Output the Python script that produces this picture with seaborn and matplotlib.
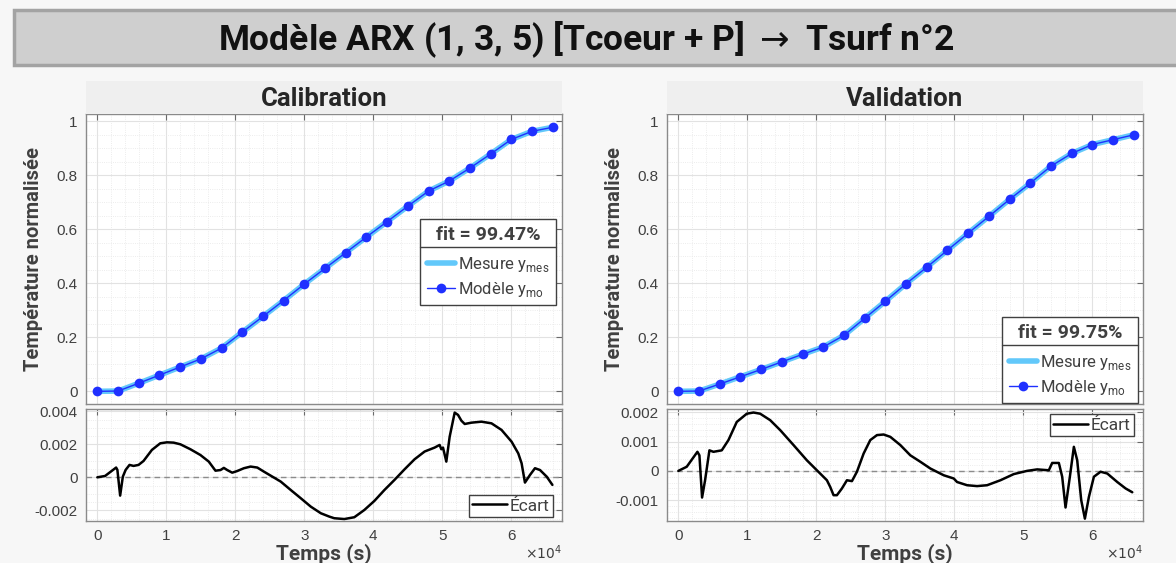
import numpy as np
import pandas as pd
import seaborn as sns
import matplotlib.pyplot as plt
from matplotlib.ticker import MultipleLocator, FuncFormatter
from matplotlib.lines import Line2D
from matplotlib.patches import Rectangle

# --- données ---
temps = [0, 3000, 6000, 9000, 12000, 15000, 18000, 21000, 24000, 27000, 30000, 33000,
         36000, 39000, 42000, 45000, 48000, 51000, 54000, 57000, 60000, 63000, 66000]

calib_mes = [0.000, 0.001, 0.030, 0.060, 0.090, 0.120, 0.160, 0.219, 0.277, 0.336, 0.397, 0.455,
             0.513, 0.571, 0.628, 0.685, 0.741, 0.778, 0.826, 0.878, 0.932, 0.962, 0.977]
calib_mod = [0.000, 0.001, 0.030, 0.060, 0.090, 0.120, 0.160, 0.219, 0.277, 0.336, 0.397, 0.455,
             0.513, 0.571, 0.628, 0.685, 0.741, 0.778, 0.826, 0.878, 0.932, 0.962, 0.977]

valid_mes = [0.000, 0.001, 0.027, 0.054, 0.081, 0.109, 0.137, 0.164, 0.207, 0.270, 0.333, 0.398,
             0.459, 0.522, 0.585, 0.647, 0.710, 0.770, 0.833, 0.880, 0.913, 0.931, 0.949]
valid_mod = [0.000, 0.001, 0.027, 0.054, 0.081, 0.109, 0.137, 0.164, 0.207, 0.270, 0.333, 0.398,
             0.459, 0.522, 0.585, 0.647, 0.710, 0.770, 0.833, 0.880, 0.913, 0.931, 0.949]

calib_ecart_t = [0, 1115, 2716, 2900, 3300, 3690, 4100, 4656, 5237, 5965, 6692, 7905, 9117, 10087,
                 11057, 12027, 13482, 14937, 16149, 17119, 17847, 18332, 18817, 19544, 20272,
                 21242, 22211, 23181, 24151, 25364, 26576, 28031, 29486, 30941, 32396, 33608,
                 34336, 35791, 37245, 38700, 40155, 41610, 43065, 44520, 45975, 47430, 48885,
                 49612, 49855, 50100, 50582, 51067, 51794, 52279, 52764, 53249, 54219, 55674,
                 57129, 58584, 60039, 61009, 61494, 61979, 62706, 63434, 64161, 65131, 65956]
calib_ecart = [0.0, 0.00008, 0.00059, 0.00045, -0.00111, 0.00004, 0.00045, 0.00075, 0.00069,
               0.00075, 0.00099, 0.00166, 0.00206, 0.00212, 0.0021, 0.0020, 0.0017, 0.00135,
               0.00095, 0.0004, 0.00044, 0.00057, 0.00044, 0.00028, 0.00038, 0.00055, 0.00065,
               0.00059, 0.00034, 0.00004, -0.00026, -0.00077, -0.00127, -0.00178, -0.00218,
               -0.00238, -0.00248, -0.00253, -0.00242, -0.00198, -0.00143, -0.00077, -0.00016,
               0.00048, 0.00109, 0.00156, 0.0018, 0.00196, 0.0017, 0.0018, 0.00095, 0.00246,
               0.00392, 0.00378, 0.00343, 0.00323, 0.00331, 0.00337, 0.00327, 0.00287, 0.00216,
               0.00145, 0.00085, -0.00032, 0.00014, 0.00055, 0.00044, 0.00004, -0.00046]

valid_ecart_t = [0, 1209, 2758, 3050, 3435, 3870, 4499, 5080, 5806, 6289, 7257, 8466, 9918, 10885,
                 11853, 13304, 14756, 16691, 18626, 20077, 21529, 22013, 22496, 22980, 23706,
                 24432, 25157, 25883, 26851, 27818, 28786, 29753, 30721, 32172, 33624, 35075,
                 36527, 38462, 39913, 40397, 41848, 43299, 44751, 46686, 48621, 50556, 52007,
                 53701, 54185, 55152, 55636, 56120, 56749, 57329, 57813, 58394, 58926, 59507,
                 60232, 61200, 62167, 63619, 64828, 65796]
valid_ecart = [0.0, 0.00014, 0.00065, 0.00053, -0.00091, -0.00032, 0.0007, 0.00065, 0.00068,
               0.0007, 0.00105, 0.00167, 0.00195, 0.00199, 0.00195, 0.00173, 0.00139, 0.00088,
               0.00036, 0.00002, -0.00032, -0.00055, -0.00083, -0.00083, -0.0006, -0.00032,
               -0.00035, -0.00003, 0.00059, 0.00105, 0.00122, 0.00124, 0.00116, 0.00088,
               0.00053, 0.00031, 0.00008, -0.00015, -0.00026, -0.00038, -0.00049, -0.00052,
               -0.00049, -0.00032, -0.00011, 0.0, 0.00005, 0.00002, 0.00027, 0.00027, -0.0002,
               -0.00125, -0.0002, 0.00082, 0.00036, -0.001, -0.00163, -0.00089, -0.0002,
               -0.00003, -0.00009, -0.00038, -0.0006, -0.00073]

fit_text = ["fit = 99.47%", "fit = 99.75%"]
panel_titles = ["Calibration", "Validation"]

# --- style ---
sns.set_style("white")
plt.rcParams['font.family'] = ['Liberation Sans', 'DejaVu Sans']
title_font = ['Roboto', 'DejaVu Sans']
txt_col = '#404040'
mes_col = '#62c8fa'
mod_col = '#1f30ff'

W, H = 1176, 563
fig = plt.figure(figsize=(W / 100, H / 100), dpi=100, facecolor='#f7f7f7')


def fx(px):
    return px / W


def fy(py):
    return 1 - py / H


# bandeau du titre
fig.patches.append(Rectangle((fx(14), fy(65)), fx(1180) - fx(14), fy(10) - fy(65),
                             transform=fig.transFigure, facecolor='#cfcfcf',
                             edgecolor='#a3a3a3', linewidth=2.5, zorder=0))
fig.text(fx(586), fy(39), "Modèle ARX (1, 3, 5) [Tcoeur + P] $\\rightarrow$ Tsurf n°2",
         ha='center', va='center', fontsize=25.5, fontweight='bold', color='#111111',
         family=title_font)


def style_axes(ax, ymajor, yminor):
    ax.set_facecolor('white')
    for sp in ax.spines.values():
        sp.set_color('#8a8a8a')
        sp.set_linewidth(1.0)
    ax.xaxis.set_major_locator(MultipleLocator(10000))
    ax.xaxis.set_minor_locator(MultipleLocator(2000))
    ax.yaxis.set_major_locator(MultipleLocator(ymajor))
    ax.yaxis.set_minor_locator(MultipleLocator(yminor))
    ax.grid(which='major', color='#e2e2e2', linewidth=0.8, linestyle='-')
    ax.grid(which='minor', color='#e6e6e6', linewidth=0.6, linestyle=':')
    ax.set_axisbelow(True)
    ax.tick_params(which='major', direction='in', length=4, width=0.8, color='#6a6a6a',
                   top=True, right=True, labelcolor=txt_col, labelsize=11, pad=6)
    ax.tick_params(which='minor', length=0)
    ax.set_xlim(-1650, 67350)


def add_separator(leg):
    fig.canvas.draw()
    r = fig.canvas.get_renderer()
    lb = leg.get_frame().get_window_extent(r)
    tb = leg.get_title().get_window_extent(r)
    ysep = tb.y0 - 3
    inv = fig.transFigure.inverted()
    (x0, y0), (x1, _) = inv.transform([(lb.x0, ysep), (lb.x1, ysep)])
    fig.add_artist(Line2D([x0, x1], [y0, y0], transform=fig.transFigure,
                          color='#404040', linewidth=1.0, zorder=10))


lefts = [86, 667]
panels = [(calib_mes, calib_mod, calib_ecart_t, calib_ecart),
          (valid_mes, valid_mod, valid_ecart_t, valid_ecart)]
ecart_ylims = [(-0.00263, 0.00412), (-0.0017, 0.0021)]
ecart_major = [0.002, 0.001]
ecart_minor = [0.0005, 0.0002]
leg_pos = [(420, 219), (1002, 317)]
ecart_leg = [('lower right', (553, 517)), ('upper right', (1134, 414))]

legends = []
for i, (mes, mod, et, ec) in enumerate(panels):
    left = lefts[i]
    ax1 = fig.add_axes([fx(left), fy(404.3), 476 / W, 290 / H])
    ax2 = fig.add_axes([fx(left), fy(520.7), 476 / W, 111.4 / H])

    # bandeau du sous-titre
    fig.patches.append(Rectangle((fx(left), fy(114.3)), 476 / W, (114.3 - 81) / H,
                                 transform=fig.transFigure, facecolor='#efefef',
                                 edgecolor='none', zorder=0))
    fig.text(fx(left + 238), fy(99), panel_titles[i], ha='center', va='center',
             fontsize=18.5, fontweight='bold', color='#262626', family=title_font)

    df = pd.DataFrame({'t': temps, 'mes': mes, 'mod': mod})
    sns.lineplot(data=df, x='t', y='mes', ax=ax1, color=mes_col, linewidth=4,
                 label='Mesure y$_{\\mathregular{mes}}$')
    sns.lineplot(data=df, x='t', y='mod', ax=ax1, color=mod_col, linewidth=1,
                 marker='o', markersize=7, markeredgewidth=0,
                 label='Modèle y$_{\\mathregular{mo}}$')
    style_axes(ax1, 0.2, 0.05)
    ax1.set_ylim(-0.048, 1.025)
    ax1.set_xticklabels([])
    ax1.set_xlabel('')
    ax1.yaxis.set_major_formatter(FuncFormatter(lambda v, p: f"{v:g}"))
    ax1.set_ylabel('Température normalisée', fontsize=14.5, fontweight='bold',
                   color=txt_col, family=title_font, labelpad=10)

    lx, ly = leg_pos[i]
    leg = ax1.legend(loc='upper left', bbox_to_anchor=(fx(lx), fy(ly)),
                     bbox_transform=fig.transFigure, borderaxespad=0,
                     title=fit_text[i], title_fontproperties={'weight': 'bold', 'size': 14,
                                                              'family': title_font},
                     fancybox=False, framealpha=1, edgecolor='#404040',
                     prop={'size': 12, 'family': title_font}, handlelength=1.7,
                     handletextpad=0.2, borderpad=0.4, labelspacing=0.35)
    leg.get_frame().set_linewidth(1.0)
    leg._legend_box.sep = 8
    for t in leg.get_texts():
        t.set_color(txt_col)
    leg.get_title().set_color(txt_col)
    legends.append(leg)

    de = pd.DataFrame({'t': et, 'ecart': ec})
    ax2.axhline(0, color='#8c8c8c', linewidth=1, linestyle=(0, (4, 3)), zorder=1)
    sns.lineplot(data=de, x='t', y='ecart', ax=ax2, color='black', linewidth=1.8,
                 label='Écart')
    style_axes(ax2, ecart_major[i], ecart_minor[i])
    ax2.set_ylim(*ecart_ylims[i])
    ax2.yaxis.set_major_formatter(FuncFormatter(lambda v, p: f"{v:g}"))
    ax2.xaxis.set_major_formatter(FuncFormatter(lambda v, p: f"{v / 1e4:g}"))
    ax2.set_ylabel('')
    ax2.set_xlabel('Temps (s)', fontsize=15, fontweight='bold', color=txt_col,
                   family=title_font, labelpad=0)
    loc, (ex, ey) = ecart_leg[i]
    leg2 = ax2.legend(loc=loc, bbox_to_anchor=(fx(ex), fy(ey)),
                      bbox_transform=fig.transFigure, borderaxespad=0,
                      fancybox=False, framealpha=1, edgecolor='#404040',
                      prop={'size': 12.5, 'family': title_font}, handlelength=2.0,
                      handletextpad=0.15, borderpad=0.2)
    leg2.get_frame().set_linewidth(1.0)
    for t in leg2.get_texts():
        t.set_color(txt_col)

    fig.text(fx(left + 476), fy(553), '$\\times10^{4}$', ha='right', va='center',
             fontsize=10, color=txt_col)

for leg in legends:
    add_separator(leg)

fig.savefig('out.png', dpi=100, facecolor=fig.get_facecolor())
